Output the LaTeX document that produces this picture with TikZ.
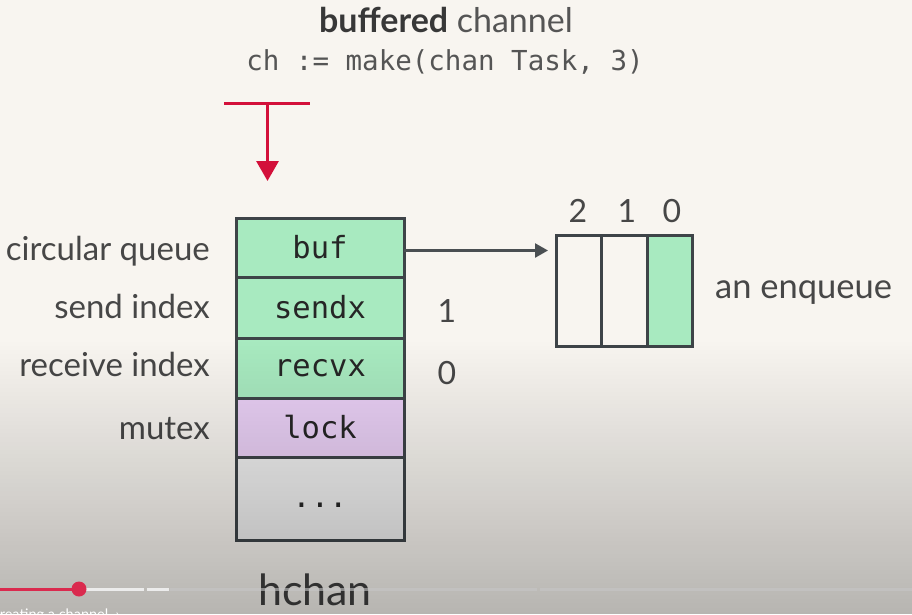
\documentclass[tikz,border=0pt]{standalone}
\usepackage{fontspec}
\setmainfont{Lato}
\setmonofont{DejaVu Sans Mono}
\usetikzlibrary{arrows.meta,fadings}
\definecolor{bg}{HTML}{F8F5F0}
\definecolor{boxline}{HTML}{3E4448}
\definecolor{qgreen}{HTML}{A8EAC0}
\definecolor{qlav}{HTML}{EAD0F6}
\definecolor{qgray}{HTML}{F0F0F0}
\definecolor{lbl}{HTML}{474747}
\definecolor{codegray}{HTML}{555555}
\definecolor{ytred}{HTML}{D3103A}
\definecolor{arrowgray}{HTML}{4A4F52}
\tikzfading[name=ytfade, top color=transparent!100, middle color=transparent!92, bottom color=transparent!74]
\tikzset{
  field/.style={draw=boxline, line width=3pt, minimum width=168pt, inner sep=0pt, outer sep=0pt,
    font=\ttfamily\fontsize{30.5}{33}\selectfont, text=black!85},
  cell/.style={draw=boxline, line width=3pt, minimum height=111pt, inner sep=0pt, outer sep=0pt},
  sidelabel/.style={anchor=base east, inner sep=0pt, text=lbl, font=\fontsize{33}{36}\selectfont},
  numlabel/.style={anchor=base, inner sep=0pt, text=lbl, font=\fontsize{32}{36}\selectfont},
}
\begin{document}
\begin{tikzpicture}[x=1pt,y=-1pt]
\useasboundingbox (0,0) rectangle (912,614);
\clip (0,0) rectangle (912,614);
\fill[bg] (0,0) rectangle (912,614);

% title
\node[anchor=base, inner sep=0pt, font=\fontsize{34}{38}\selectfont, text=codegray] (title) at (446,32)
  {\textbf{\color{black!78}buffered} channel};
\node[anchor=base, inner sep=0pt, font=\ttfamily\fontsize{27.5}{30}\selectfont, text=codegray] (code) at (445,70)
  {ch := make(chan Task, 3)};

% red T arrow
\coordinate (tl) at (224,103);
\coordinate (tr) at (310,103);
\coordinate (ttop) at (267.5,103);
\coordinate (ttip) at (267.5,181);
\draw[ytred, line width=3pt] (tl) -- (tr);
\draw[ytred, line width=3pt, -{Triangle[length=20pt,width=22pt]}] (ttop) -- (ttip);

% hchan struct
\node[field, fill=qgreen, minimum height=59pt] (buf) at (320,247.5) {buf};
\node[field, fill=qgreen, minimum height=61pt] (sendx) at (320,307.5) {sendx};
\node[field, fill=qgreen, minimum height=60pt] (recvx) at (320,368) {recvx};
\node[field, fill=qlav, minimum height=59pt] (lock) at (320,427.5) {lock};
\node[field, fill=qgray, minimum height=83pt, text height=17pt, text depth=0pt] (dots) at (320,498.5) {...};

\node[sidelabel] (lq) at (210,260) {circular queue};
\node[sidelabel] (ls) at (210,318) {send index};
\node[sidelabel] (lr) at (210,376) {receive index};
\node[sidelabel] (lm) at (210,439) {mutex};

\node[numlabel] (sv) at (447,322) {1};
\node[numlabel] (rv) at (447,384) {0};

% buffer array
\node[cell, fill=bg, minimum width=45pt] (c2) at (578.5,290.5) {};
\node[cell, fill=bg, minimum width=46pt] (c1) at (624,290.5) {};
\node[cell, fill=qgreen, minimum width=45pt] (c0) at (669.5,290.5) {};
\node[numlabel] (i2) at (578,222) {2};
\node[numlabel] (i1) at (627,222) {1};
\node[numlabel] (i0) at (672,222) {0};
\node[anchor=base west, inner sep=0pt, text=lbl, font=\fontsize{34.5}{38}\selectfont] (enq) at (715,298) {an enqueue};

\draw[arrowgray, line width=2.5pt, -{Triangle[length=13pt,width=14pt]}, shorten >=8pt]
  ([yshift=-3pt]buf.east) -- ([yshift=-3pt]buf.east -| c2.west);

\node[anchor=base, inner sep=0pt, text=black!75, font=\fontsize{43}{48}\selectfont] (hchan) at (315,605) {hchan};

% video overlay gradient
\fill[black, path fading=ytfade] (0,340) rectangle (912,614);

% progress bar
\coordinate (p0) at (0,589);
\coordinate (p1) at (79,589);
\draw[white!55!gray, opacity=0.6, line width=3pt] (170,589) -- (537,589);
\draw[white!55!gray, opacity=0.6, line width=3pt] (540,589) -- (912,589);
\draw[white!85!gray, line width=3pt] (86,589) -- (144,589);
\draw[white!85!gray, line width=3pt] (147,589) -- (169,589);
\draw[ytred!85!pink, line width=3pt] (p0) -- (p1);
\fill[ytred!85!pink] (p1) circle (7.5pt);
\node[anchor=base west, inner sep=0pt, text=white, font=\fontsize{14.5}{16}\selectfont] (cap) at (-10,619) {Creating a channel \ ›};
\end{tikzpicture}
\end{document}
